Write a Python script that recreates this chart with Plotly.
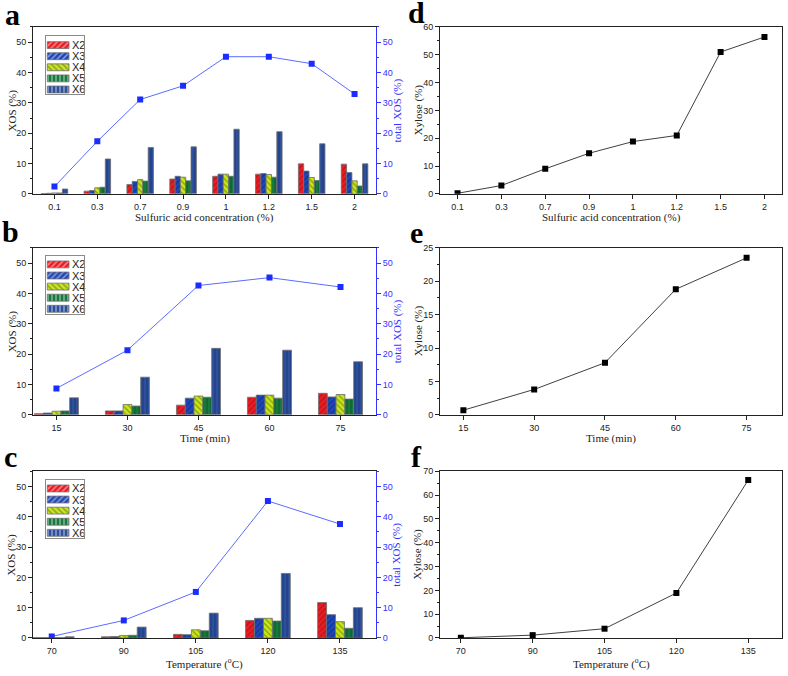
import plotly.graph_objects as go

W, H = 788, 676

# ---- data ----
acid = ["0.1", "0.3", "0.7", "0.9", "1", "1.2", "1.5", "2"]
acid_x2 = [0.1, 0.9, 3.1, 4.9, 5.8, 6.5, 9.9, 9.8]
acid_x3 = [0.2, 1.1, 4.1, 5.8, 6.5, 6.7, 7.5, 7.0]
acid_x4 = [0.3, 2.0, 4.7, 5.5, 6.5, 6.4, 5.4, 4.3]
acid_x5 = [0.3, 2.2, 4.2, 4.3, 5.8, 5.5, 4.4, 2.6]
acid_x6 = [1.6, 11.5, 15.3, 15.5, 21.3, 20.5, 16.5, 9.9]
acid_total = [2.4, 17.3, 31.1, 35.6, 45.2, 45.2, 42.9, 32.9]
acid_xylose = [0.2, 3.0, 9.0, 14.6, 18.8, 21.0, 51.0, 56.4]

time_min = ["15", "30", "45", "60", "75"]
time_x2 = [0.4, 1.3, 3.2, 5.8, 7.1]
time_x3 = [0.6, 1.3, 5.5, 6.5, 5.9]
time_x4 = [1.2, 3.4, 6.2, 6.5, 6.7]
time_x5 = [1.3, 2.9, 5.8, 5.5, 5.2]
time_x6 = [5.6, 12.4, 21.9, 21.3, 17.5]
time_total = [8.7, 21.3, 42.6, 45.2, 42.1]
time_xylose = [0.7, 3.8, 7.8, 18.8, 23.5]

temp = ["70", "90", "105", "120", "135"]
temp_x2 = [0.1, 0.4, 1.2, 5.8, 11.7]
temp_x3 = [0.1, 0.5, 1.1, 6.5, 7.7]
temp_x4 = [0.1, 0.8, 2.7, 6.5, 5.4]
temp_x5 = [0.1, 0.9, 2.4, 5.6, 3.2]
temp_x6 = [0.4, 3.6, 8.2, 21.3, 10.0]
temp_total = [0.5, 5.8, 15.2, 45.2, 37.6]
temp_xylose = [0.1, 1.2, 3.9, 18.9, 66.3]

series_names = ["X2", "X3", "X4", "X5", "X6"]

# ---- styling ----
bar_fill = ["#ec1c24", "#1f47b8", "#c9e81a", "#157a3c", "#2d4f9c"]
bar_fg = ["#8a0c10", "#0c2370", "#4a5a00", "#0a4a22", "#14306a"]
bar_shape = ["/", "/", "\\", "|", "|"]
BLUE = "#3333ff"
LINE_BLUE = "#5a6cff"
SERIF = "Liberation Serif"
SANS = "Liberation Sans"


def px_x(p):
    return p / W


def px_y(p):
    return 1 - p / H


fig = go.Figure()

left_panels = [
    (acid, [acid_x2, acid_x3, acid_x4, acid_x5, acid_x6], acid_total, "x", "y", "y2"),
    (time_min, [time_x2, time_x3, time_x4, time_x5, time_x6], time_total, "x2", "y3", "y4"),
    (temp, [temp_x2, temp_x3, temp_x4, temp_x5, temp_x6], temp_total, "x3", "y5", "y6"),
]

for cats, bars, total, xa, ya, ya2 in left_panels:
    for i, vals in enumerate(bars):
        fig.add_trace(go.Bar(
            x=cats, y=vals, name=series_names[i], xaxis=xa, yaxis=ya, showlegend=False,
            marker=dict(color=bar_fill[i], line=dict(color="#6f6f6f", width=0.8),
                        pattern=dict(shape=bar_shape[i], fgcolor=bar_fg[i], size=4, solidity=0.35)),
        ))
    fig.add_trace(go.Scatter(
        x=cats, y=total, xaxis=xa, yaxis=ya2, mode="lines+markers", showlegend=False,
        line=dict(color=LINE_BLUE, width=1), marker=dict(symbol="square", size=6, color="#1a2cff"),
    ))

right_panels = [
    (acid, acid_xylose, "x4", "y7"),
    (time_min, time_xylose, "x5", "y8"),
    (temp, temp_xylose, "x6", "y9"),
]
for cats, vals, xa, ya in right_panels:
    fig.add_trace(go.Scatter(
        x=cats, y=vals, xaxis=xa, yaxis=ya, mode="lines+markers", showlegend=False,
        line=dict(color="#404040", width=1), marker=dict(symbol="square", size=6, color="black"),
    ))

# legend boxes drawn as small hidden subplots so the swatches keep their hatching
legend_tops = [31.7, 254.3, 481.7]
for k in range(3):
    fig.add_trace(go.Bar(
        y=series_names, x=[21.7] * 5, base=1.3, orientation="h", xaxis=f"x{k + 7}", yaxis=f"y{k + 10}",
        showlegend=False, hoverinfo="skip", text=series_names, textposition="outside", cliponaxis=False,
        constraintext="none", textfont=dict(family=SANS, size=11, color="#222"),
        marker=dict(color=bar_fill, line=dict(color="#6f6f6f", width=0.8),
                    pattern=dict(shape=bar_shape, fgcolor=bar_fg, size=4, solidity=0.35)),
    ))

tickfont = dict(family=SANS, size=9, color="#222")
titlefont = dict(family=SERIF, size=11, color="#222")

# vertical extents (px) of the three rows
rows = [(22.3, 191.7), (246.5, 416), (473.3, 642.5)]
left_dom = [px_x(33), px_x(376)]
right_dom = [px_x(440), px_x(782)]

xaxis_common = dict(type="category", showline=True, linecolor="#222", linewidth=1, mirror=True,
                    ticks="outside", ticklen=4, tickcolor="#222", tickfont=tickfont, showgrid=False,
                    zeroline=False)
yaxis_common = dict(showline=True, linecolor="#222", linewidth=1, ticks="outside", ticklen=4,
                    tickcolor="#222", tickfont=tickfont, showgrid=False, zeroline=False,
                    minor=dict(ticks="outside", ticklen=2, tickcolor="#222", dtick=5, showgrid=False))

x_titles = ["Sulfuric acid concentration (%)", "Time (min)", "Temperature (<sup>o</sup>C)"]
x_ranges_left = [[-0.5, 7.5], [-0.33, 4.5], [-0.26, 4.5]]
x_ranges_right = [[-0.4, 7.4], [-0.33, 4.5], [-0.29, 4.47]]
y_right = [(60, 10), (25, 5), (70, 10)]

layout = {}
for r in range(3):
    top, bot = rows[r]
    dom = [px_y(bot), px_y(top)]
    xn = "xaxis" if r == 0 else f"xaxis{r + 1}"
    yl = "yaxis" if r == 0 else f"yaxis{2 * r + 1}"
    yr = f"yaxis{2 * r + 2}"
    yl_ref = "y" if r == 0 else f"y{2 * r + 1}"
    x_ref = "x" if r == 0 else f"x{r + 1}"
    layout[xn] = dict(xaxis_common, domain=left_dom, anchor=yl_ref, range=x_ranges_left[r])
    layout[yl] = dict(yaxis_common, domain=dom, anchor=x_ref, range=[0, 55], dtick=10)
    layout[yr] = dict(yaxis_common, overlaying=yl_ref, side="right", anchor=x_ref, range=[0, 55], dtick=10,
                      linecolor=BLUE, tickcolor=BLUE, tickfont=dict(tickfont, color=BLUE),
                      minor=dict(ticks="outside", ticklen=2, tickcolor=BLUE, dtick=5, showgrid=False))
    # right column
    xn2 = f"xaxis{r + 4}"
    yn2 = f"yaxis{r + 7}"
    ymax, dt = y_right[r]
    layout[xn2] = dict(xaxis_common, domain=right_dom, anchor=f"y{r + 7}", range=x_ranges_right[r])
    layout[yn2] = dict(yaxis_common, domain=dom, anchor=f"x{r + 4}", range=[0, ymax], dtick=dt,
                       mirror=True, minor=dict(ticks="outside", ticklen=2, tickcolor="#222",
                                               dtick=dt / 2, showgrid=False))
    # legend subplot
    lt = legend_tops[r]
    layout[f"xaxis{r + 7}"] = dict(domain=[px_x(46), px_x(84)], anchor=f"y{r + 10}", range=[0, 38],
                                   showline=True, mirror=True, linecolor="#8a8a8a", linewidth=1,
                                   showticklabels=False, ticks="", showgrid=False, zeroline=False)
    layout[f"yaxis{r + 10}"] = dict(domain=[px_y(lt + 59), px_y(lt)], anchor=f"x{r + 7}", type="category",
                                    range=[4.44, -0.8], showline=True, mirror=True, linecolor="#8a8a8a",
                                    linewidth=1, showticklabels=False, ticks="", showgrid=False,
                                    zeroline=False)

fig.update_layout(
    width=W, height=H, margin=dict(l=0, r=0, t=0, b=0),
    paper_bgcolor="white", plot_bgcolor="white",
    barmode="group", bargap=0.38, bargroupgap=0, showlegend=False,
    **layout,
)

annotations = []
# panel letters
for letter, x, y in [("a", 12.5, 10), ("b", 10.7, 230), ("c", 10.5, 458),
                     ("d", 416, 8), ("e", 416, 231), ("f", 416, 458)]:
    annotations.append(dict(text="<b>" + letter + "</b>", x=px_x(x), y=px_y(y), xref="paper", yref="paper",
                            showarrow=False, font=dict(family=SERIF, size=30, color="black"),
                            xanchor="center", yanchor="middle"))
# x axis titles
for r, yy in enumerate([216, 440, 668]):
    for xc in [(33 + 376) / 2, (440 + 782) / 2]:
        annotations.append(dict(text=x_titles[r], x=px_x(xc), y=px_y(yy), xref="paper", yref="paper",
                                showarrow=False, font=titlefont, xanchor="center", yanchor="middle"))
# y axis titles
for r in range(3):
    top, bot = rows[r]
    yc = (top + bot) / 2
    annotations.append(dict(text="XOS (%)", x=px_x(12), y=px_y(yc), xref="paper", yref="paper",
                            showarrow=False, font=titlefont, textangle=-90,
                            xanchor="center", yanchor="middle"))
    annotations.append(dict(text="total XOS (%)", x=px_x(397), y=px_y(yc), xref="paper", yref="paper",
                            showarrow=False, font=dict(titlefont, color=BLUE), textangle=-90,
                            xanchor="center", yanchor="middle"))
    annotations.append(dict(text="Xylose (%)", x=px_x(418), y=px_y(yc), xref="paper", yref="paper",
                            showarrow=False, font=titlefont, textangle=-90,
                            xanchor="center", yanchor="middle"))
fig.update_layout(annotations=annotations)

fig.write_html("out.html", config={"displayModeBar": False},
               post_script="document.body.style.margin='0';")
